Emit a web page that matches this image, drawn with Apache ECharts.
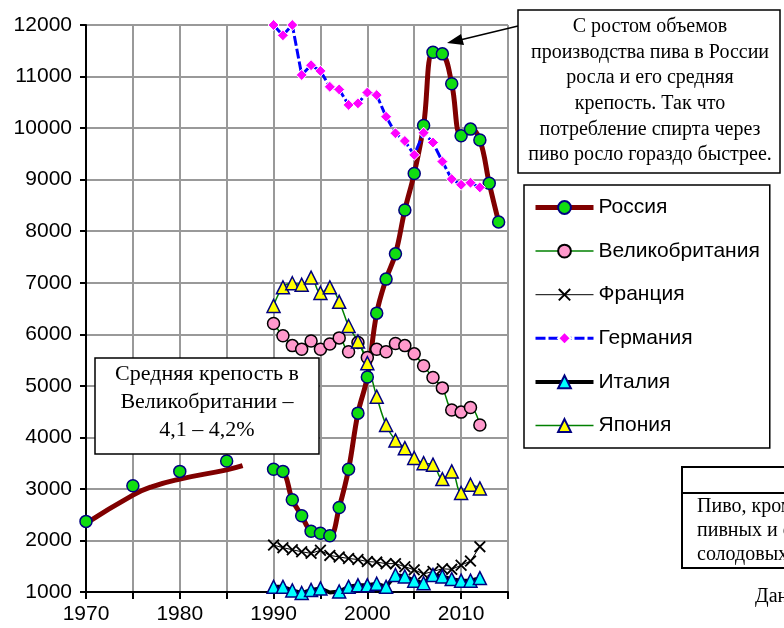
<!DOCTYPE html>
<html>
<head>
<meta charset="utf-8">
<script src="https://cdn.jsdelivr.net/npm/echarts@6/dist/echarts.min.js"></script>
<style>
  html, body { margin: 0; padding: 0; background: #fff; }
  #main { width: 784px; height: 628px; }
</style>
</head>
<body>
<div id="main"></div>
<script>
var chart = echarts.init(document.getElementById('main'));

/****** данные ******/
var names = ['Россия', 'Великобритания', 'Франция', 'Германия', 'Италия', 'Япония'];

var years = [1990, 1991, 1992, 1993, 1994, 1995, 1996, 1997, 1998, 1999, 2000, 2001,
             2002, 2003, 2004, 2005, 2006, 2007, 2008, 2009, 2010, 2011, 2012, 2013, 2014];

var russiaEarlyYears = [1970, 1975, 1980, 1985];
var russiaEarly = [2370, 3060, 3340, 3540];
// сглаженная линия 1970-х - 1980-х
var russiaTrendYears = [1970, 1975, 1977, 1980, 1985, 1986.7];
var russiaTrend = [2330, 2880, 3040, 3190, 3370, 3450];

var russia = [3380, 3340, 2790, 2480, 2180, 2140, 2090, 2640, 3380, 4470, 5170, 6410,
              7070, 7560, 8410, 9120, 10050, 11470, 11440, 10860, 9850, 9980, 9770, 8930, 8180];
var uk = [6210, 5970, 5780, 5710, 5870, 5710, 5810, 5930, 5660, 5840, 5550, 5710,
          5660, 5820, 5780, 5620, 5390, 5160, 4960, 4530, 4490, 4580, 4240];
var france = [1910, 1860, 1820, 1780, 1750, 1810, 1710, 1680, 1650, 1630, 1590, 1580,
              1550, 1550, 1490, 1430, 1350, 1400, 1450, 1440, 1520, 1600, 1880];
var germany = [12000, 11800, 12000, 11030, 11220, 11110, 10800, 10750, 10450, 10480, 10690, 10640,
               10220, 9900, 9750, 9480, 9910, 9720, 9350, 9010, 8900, 8940, 8850];
var italy = [1100, 1100, 1030, 980, 1040, 1070, 990, 1010, 1100, 1130, 1130, 1160,
             1100, 1330, 1300, 1220, 1170, 1330, 1300, 1250, 1220, 1220, 1270];
var japan = [6550, 6910, 6990, 6960, 7100, 6800, 6910, 6630, 6160, 5860, 5440, 4790,
             4240, 3940, 3790, 3600, 3500, 3470, 3190, 3340, 2920, 3080, 3010];

function pairs(xs, vs) {
    return vs.map(function (v, i) { return [xs[i], v]; });
}

var sans = '"Liberation Sans", Arial, sans-serif';
var serif = '"Liberation Serif", "Times New Roman", serif';
var crossPath = 'path://M0,1.1L1.1,0L5,3.9L8.9,0L10,1.1L6.1,5L10,8.9L8.9,10L5,6.1L1.1,10L0,8.9L3.9,5Z';

// у Италии в 1996 маркера нет
var italyData = pairs(years, italy).map(function (p) {
    return p[0] === 1996 ? { value: p, symbol: 'none' } : p;
});

// толщина линий в легенде как на графике
var legendWidths = [5, 1.5, 1, 3, 4, 1.5];

var option = {
    animation: false,
    grid: { left: 86, right: 276, top: 25, bottom: 36 },
    xAxis: {
        type: 'value',
        min: 1970,
        max: 2015,
        interval: 5,
        axisLine: { lineStyle: { color: '#000', width: 2 } },
        axisTick: { length: 7, lineStyle: { color: '#000', width: 2 } },
        axisLabel: {
            margin: 12,
            fontSize: 21,
            fontFamily: sans,
            color: '#000',
            formatter: function (v) { return v % 10 === 0 ? String(v) : ''; }
        },
        splitLine: { show: true, lineStyle: { color: '#999', width: 2 } }
    },
    yAxis: {
        type: 'value',
        min: 1000,
        max: 12000,
        interval: 1000,
        axisLine: { show: true, lineStyle: { color: '#000', width: 2 } },
        axisTick: { show: true, length: 6, lineStyle: { color: '#000', width: 2 } },
        axisLabel: {
            margin: 14, fontSize: 21, fontFamily: sans, color: '#000',
            formatter: function (v) { return String(v); }
        },
        splitLine: { show: true, lineStyle: { color: '#999', width: 2 } }
    },
    legend: {
        orient: 'vertical',
        left: 524,
        top: 185,
        padding: [12, 10, 12, 9],
        borderColor: '#000',
        borderWidth: 1.5,
        backgroundColor: '#fff',
        itemWidth: 58,
        itemHeight: 16,
        itemGap: 22.6,
        textStyle: { fontSize: 21, fontFamily: sans, color: '#000' },
        data: names.map(function (n, i) {
            return { name: n, lineStyle: { width: legendWidths[i] } };
        })
    },
    series: [
        {
            name: 'trend',
            type: 'line',
            data: pairs(russiaTrendYears, russiaTrend),
            smooth: 0.5,
            showSymbol: false,
            lineStyle: { color: '#800000', width: 5 }
        },
        {
            name: 'early',
            type: 'line',
            data: pairs(russiaEarlyYears, russiaEarly),
            symbol: 'circle',
            symbolSize: 12,
            lineStyle: { width: 0, opacity: 0 },
            itemStyle: { color: '#11dd11', borderColor: '#000080', borderWidth: 1.5 }
        },
        {
            name: 'Россия',
            type: 'line',
            data: pairs(years, russia),
            smooth: 0.4,
            symbol: 'circle',
            symbolSize: 12,
            lineStyle: { color: '#800000', width: 5 },
            itemStyle: { color: '#11dd11', borderColor: '#000080', borderWidth: 1.5 }
        },
        {
            name: 'Великобритания',
            type: 'line',
            data: pairs(years, uk),
            smooth: 0.4,
            symbol: 'circle',
            symbolSize: 12,
            lineStyle: { color: '#008000', width: 1.5 },
            itemStyle: { color: '#ff99cc', borderColor: '#000', borderWidth: 1.5 }
        },
        {
            name: 'Франция',
            type: 'line',
            data: pairs(years, france),
            symbol: crossPath,
            symbolSize: 12,
            lineStyle: { color: '#000', width: 1 },
            itemStyle: { color: '#000' }
        },
        {
            name: 'Германия',
            type: 'line',
            data: pairs(years, germany),
            symbol: 'diamond',
            symbolSize: 11,
            lineStyle: { color: '#0000ff', width: 3, type: [10, 3] },
            itemStyle: { color: '#ff00ff', borderColor: '#fff', borderWidth: 1 }
        },
        {
            name: 'Италия',
            type: 'line',
            data: italyData,
            clip: false,
            symbol: 'triangle',
            symbolSize: 13,
            lineStyle: { color: '#000', width: 4 },
            itemStyle: { color: '#00ffff', borderColor: '#000080', borderWidth: 1.5 }
        },
        {
            name: 'Япония',
            type: 'line',
            data: pairs(years, japan),
            smooth: 0.4,
            symbol: 'triangle',
            symbolSize: 13,
            lineStyle: { color: '#008000', width: 1.5 },
            itemStyle: { color: '#ffff00', borderColor: '#000080', borderWidth: 1.5 }
        }
    ],
    graphic: [
        // выноска справа сверху
        {
            type: 'line', z: 100,
            shape: { x1: 518, y1: 26, x2: 460, y2: 40 },
            style: { stroke: '#000', lineWidth: 1.5 }
        },
        {
            type: 'polygon', z: 100,
            shape: { points: [[447, 43], [464, 45], [461, 34]] },
            style: { fill: '#000' }
        },
        {
            type: 'rect', z: 100,
            shape: { x: 518, y: 10, width: 262, height: 163 },
            style: { fill: '#fff', stroke: '#000', lineWidth: 1.5 }
        },
        {
            type: 'text', z: 101, x: 650, y: 91,
            style: {
                text: 'С ростом объемов\nпроизводства пива в России\nросла и его средняя\nкрепость. Так что\nпотребление спирта через\nпиво росло гораздо быстрее.',
                fontSize: 20, fontFamily: serif, fill: '#000',
                align: 'center', verticalAlign: 'middle', lineHeight: 25.6
            }
        },
        // выноска слева
        {
            type: 'rect', z: 100,
            shape: { x: 95, y: 358, width: 224, height: 96 },
            style: { fill: '#fff', stroke: '#000', lineWidth: 1.5 }
        },
        {
            type: 'text', z: 101, x: 207, y: 402,
            style: {
                text: 'Средняя крепость в\nВеликобритании –\n4,1 – 4,2%',
                fontSize: 22, fontFamily: serif, fill: '#000',
                align: 'center', verticalAlign: 'middle', lineHeight: 28
            }
        },
        // обрезанная таблица справа внизу
        {
            type: 'rect', z: 100,
            shape: { x: 682, y: 467, width: 140, height: 101 },
            style: { fill: '#fff', stroke: '#000', lineWidth: 2 }
        },
        {
            type: 'line', z: 100,
            shape: { x1: 682, y1: 493, x2: 800, y2: 493 },
            style: { stroke: '#000', lineWidth: 2 }
        },
        {
            type: 'text', z: 101, x: 697, y: 531,
            style: {
                text: 'Пиво, кроме\nпивных и слабо\nсолодовых',
                fontSize: 20, fontFamily: serif, fill: '#000',
                align: 'left', verticalAlign: 'middle', lineHeight: 24
            }
        },
        {
            type: 'text', z: 101, x: 755, y: 597,
            style: {
                text: 'Данные',
                fontSize: 20, fontFamily: serif, fill: '#000',
                align: 'left', verticalAlign: 'middle'
            }
        }
    ]
};

chart.setOption(option);
</script>
</body>
</html>
